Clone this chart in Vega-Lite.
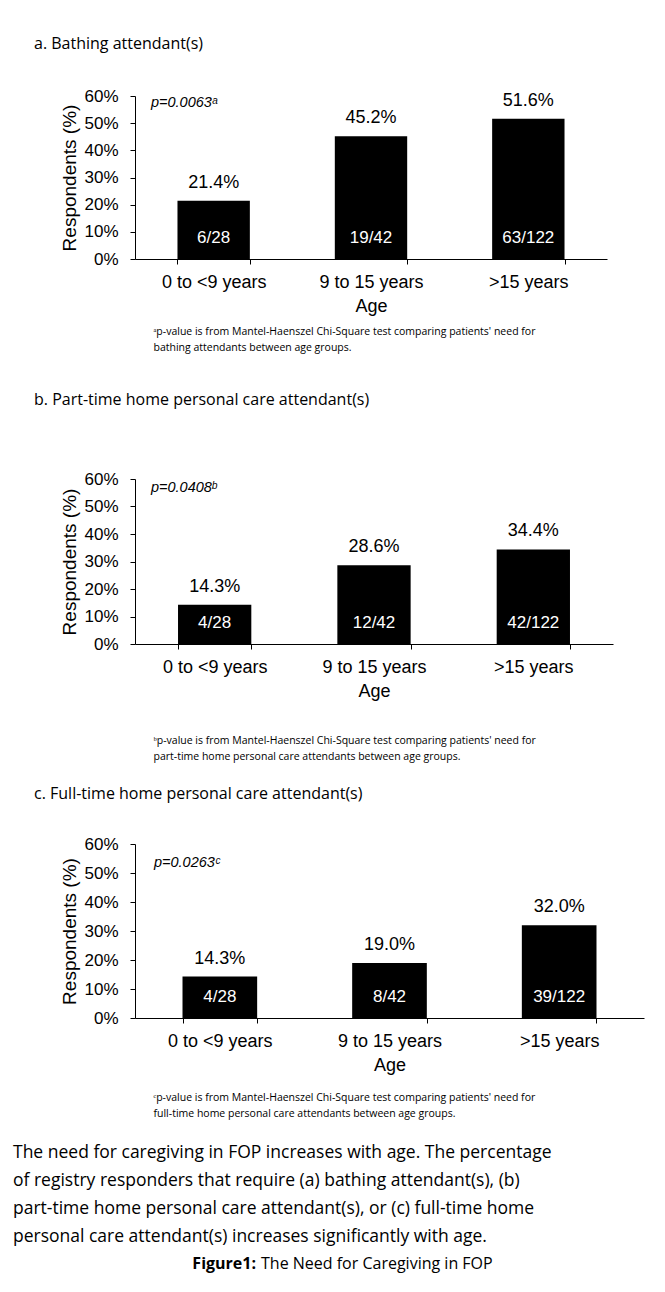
{
  "$schema": "https://vega.github.io/schema/vega-lite/v6.json",
  "background": "white",
  "padding": {"left": 13, "top": 36, "right": 5, "bottom": 5},
  "spacing": 24,
  "config": {
    "view": {"stroke": null},
    "font": "Liberation Sans",
    "text": {"font": "Liberation Sans", "color": "#000"},
    "axis": {"domainColor": "#000", "tickColor": "#000", "labelColor": "#000", "titleColor": "#000", "labelFont": "Liberation Sans", "titleFont": "Liberation Sans", "titleFontWeight": "normal", "grid": false, "tickSize": 5},
    "axisX": {"labelFontSize": 18, "titleFontSize": 18, "labelPadding": 9, "titlePadding": 6},
    "axisY": {"labelFontSize": 17, "titleFontSize": 19, "labelPadding": 12, "titlePadding": 4, "labelOverlap": false},
    "title": {"font": "Open Sans", "fontWeight": "normal", "color": "#000"}
  },
  "datasets": {
    "bars": [
      {"panel": "a", "age": "0 to <9 years", "pct": 0.214, "ratio": "6/28"},
      {"panel": "a", "age": "9 to 15 years", "pct": 0.452, "ratio": "19/42"},
      {"panel": "a", "age": ">15 years", "pct": 0.516, "ratio": "63/122"},
      {"panel": "b", "age": "0 to <9 years", "pct": 0.143, "ratio": "4/28"},
      {"panel": "b", "age": "9 to 15 years", "pct": 0.286, "ratio": "12/42"},
      {"panel": "b", "age": ">15 years", "pct": 0.344, "ratio": "42/122"},
      {"panel": "c", "age": "0 to <9 years", "pct": 0.143, "ratio": "4/28"},
      {"panel": "c", "age": "9 to 15 years", "pct": 0.190, "ratio": "8/42"},
      {"panel": "c", "age": ">15 years", "pct": 0.320, "ratio": "39/122"}
    ],
    "pvals": [
      {"panel": "a", "p": "p=0.0063ᵃ"},
      {"panel": "b", "p": "p=0.0408ᵇ"},
      {"panel": "c", "p": "p=0.0263ᶜ"}
    ],
    "caption": [
      {"lead": "Figure1:", "rest": "The Need for Caregiving in FOP"}
    ]
  },
  "vconcat": [
    {
      "width": 472, "height": 163,
      "title": {"text": "a. Bathing attendant(s)", "anchor": "start", "frame": "group", "dx": -101, "fontSize": 16, "offset": 35},
      "layer": [
        {
          "data": {"name": "bars"},
          "transform": [{"filter": "datum.panel === 'a'"}],
          "encoding": {
            "x": {"field": "age", "type": "nominal", "sort": null, "title": "Age", "scale": {"paddingInner": 0.54, "paddingOuter": 0.27}, "axis": {"labelAngle": 0, "tickBand": "extent"}},
            "y": {"field": "pct", "type": "quantitative", "title": "Respondents (%)", "scale": {"domain": [0, 0.6]}, "axis": {"values": [0, 0.1, 0.2, 0.3, 0.4, 0.5, 0.6], "format": ".0%", "labelOverlap": false}}
          },
          "layer": [
            {"mark": {"type": "bar", "color": "#000"}},
            {"mark": {"type": "text", "baseline": "bottom", "dy": -9, "fontSize": 18}, "encoding": {"text": {"field": "pct", "type": "quantitative", "format": ".1%"}}},
            {"mark": {"type": "text", "baseline": "bottom", "dy": -12, "fontSize": 17, "color": "#ffffff"}, "encoding": {"y": {"datum": 0, "type": "quantitative", "title": "Respondents (%)", "axis": {"values": [0, 0.1, 0.2, 0.3, 0.4, 0.5, 0.6], "format": ".0%", "labelOverlap": false}}, "text": {"field": "ratio"}}}
          ]
        },
        {
          "data": {"name": "pvals"},
          "transform": [{"filter": "datum.panel === 'a'"}],
          "mark": {"type": "text", "align": "left", "dx": 16, "fontStyle": "italic", "fontSize": 14.5},
          "encoding": {
            "x": {"field": "p", "type": "nominal", "scale": {"type": "point", "align": 0}, "axis": {"orient": "bottom", "offset": 67, "domain": false, "ticks": false, "labels": false, "title": ["ᵃp-value is from Mantel-Haenszel Chi-Square test comparing patients' need for", "bathing attendants between age groups."], "titleFont": "Open Sans", "titleFontSize": 10.5, "titleLineHeight": 16, "titleAnchor": "start", "titleAlign": "left", "titleX": 18, "titlePadding": 0, "titleBaseline": "top"}},
            "y": {"datum": 0.575, "type": "quantitative", "title": "Respondents (%)", "axis": {"values": [0, 0.1, 0.2, 0.3, 0.4, 0.5, 0.6], "format": ".0%", "labelOverlap": false}},
            "text": {"field": "p"}
          }
        }
      ],
      "resolve": {"scale": {"x": "independent"}, "axis": {"x": "independent"}}
    },
    {
      "width": 478, "height": 165,
      "title": {"text": ["", "b. Part-time home personal care attendant(s)"], "anchor": "start", "frame": "group", "dx": -101, "fontSize": 16, "lineHeight": 15, "offset": 62},
      "layer": [
        {
          "data": {"name": "bars"},
          "transform": [{"filter": "datum.panel === 'b'"}],
          "encoding": {
            "x": {"field": "age", "type": "nominal", "sort": null, "title": "Age", "scale": {"paddingInner": 0.54, "paddingOuter": 0.27}, "axis": {"labelAngle": 0, "tickBand": "extent"}},
            "y": {"field": "pct", "type": "quantitative", "title": "Respondents (%)", "scale": {"domain": [0, 0.6]}, "axis": {"values": [0, 0.1, 0.2, 0.3, 0.4, 0.5, 0.6], "format": ".0%", "labelOverlap": false}}
          },
          "layer": [
            {"mark": {"type": "bar", "color": "#000"}},
            {"mark": {"type": "text", "baseline": "bottom", "dy": -9, "fontSize": 18}, "encoding": {"text": {"field": "pct", "type": "quantitative", "format": ".1%"}}},
            {"mark": {"type": "text", "baseline": "bottom", "dy": -12, "fontSize": 17, "color": "#ffffff"}, "encoding": {"y": {"datum": 0, "type": "quantitative", "title": "Respondents (%)", "axis": {"values": [0, 0.1, 0.2, 0.3, 0.4, 0.5, 0.6], "format": ".0%", "labelOverlap": false}}, "text": {"field": "ratio"}}}
          ]
        },
        {
          "data": {"name": "pvals"},
          "transform": [{"filter": "datum.panel === 'b'"}],
          "mark": {"type": "text", "align": "left", "dx": 16, "fontStyle": "italic", "fontSize": 14.5},
          "encoding": {
            "x": {"field": "p", "type": "nominal", "scale": {"type": "point", "align": 0}, "axis": {"orient": "bottom", "offset": 91, "domain": false, "ticks": false, "labels": false, "title": ["ᵇp-value is from Mantel-Haenszel Chi-Square test comparing patients' need for", "part-time home personal care attendants between age groups."], "titleFont": "Open Sans", "titleFontSize": 10.5, "titleLineHeight": 16, "titleAnchor": "start", "titleAlign": "left", "titleX": 18, "titlePadding": 0, "titleBaseline": "top"}},
            "y": {"datum": 0.567, "type": "quantitative", "title": "Respondents (%)", "axis": {"values": [0, 0.1, 0.2, 0.3, 0.4, 0.5, 0.6], "format": ".0%", "labelOverlap": false}},
            "text": {"field": "p"}
          }
        }
      ],
      "resolve": {"scale": {"x": "independent"}, "axis": {"x": "independent"}}
    },
    {
      "width": 509, "height": 174,
      "title": {"text": "c. Full-time home personal care attendant(s)", "anchor": "start", "frame": "group", "dx": -101, "fontSize": 16, "offset": 33},
      "layer": [
        {
          "data": {"name": "bars"},
          "transform": [{"filter": "datum.panel === 'c'"}],
          "encoding": {
            "x": {"field": "age", "type": "nominal", "sort": null, "title": "Age", "scale": {"paddingInner": 0.56, "paddingOuter": 0.28}, "axis": {"labelAngle": 0, "tickBand": "extent"}},
            "y": {"field": "pct", "type": "quantitative", "title": "Respondents (%)", "scale": {"domain": [0, 0.6]}, "axis": {"values": [0, 0.1, 0.2, 0.3, 0.4, 0.5, 0.6], "format": ".0%", "labelOverlap": false}}
          },
          "layer": [
            {"mark": {"type": "bar", "color": "#000"}},
            {"mark": {"type": "text", "baseline": "bottom", "dy": -9, "fontSize": 18}, "encoding": {"text": {"field": "pct", "type": "quantitative", "format": ".1%"}}},
            {"mark": {"type": "text", "baseline": "bottom", "dy": -12, "fontSize": 17, "color": "#ffffff"}, "encoding": {"y": {"datum": 0, "type": "quantitative", "title": "Respondents (%)", "axis": {"values": [0, 0.1, 0.2, 0.3, 0.4, 0.5, 0.6], "format": ".0%", "labelOverlap": false}}, "text": {"field": "ratio"}}}
          ]
        },
        {
          "data": {"name": "pvals"},
          "transform": [{"filter": "datum.panel === 'c'"}],
          "mark": {"type": "text", "align": "left", "dx": 19, "fontStyle": "italic", "fontSize": 14.5},
          "encoding": {
            "x": {"field": "p", "type": "nominal", "scale": {"type": "point", "align": 0}, "axis": {"orient": "bottom", "offset": 74, "domain": false, "ticks": false, "labels": false, "title": ["ᶜp-value is from Mantel-Haenszel Chi-Square test comparing patients' need for", "full-time home personal care attendants between age groups."], "titleFont": "Open Sans", "titleFontSize": 10.5, "titleLineHeight": 16, "titleAnchor": "start", "titleAlign": "left", "titleX": 18, "titlePadding": 0, "titleBaseline": "top"}},
            "y": {"datum": 0.535, "type": "quantitative", "title": "Respondents (%)", "axis": {"values": [0, 0.1, 0.2, 0.3, 0.4, 0.5, 0.6], "format": ".0%", "labelOverlap": false}},
            "text": {"field": "p"}
          }
        }
      ],
      "resolve": {"scale": {"x": "independent"}, "axis": {"x": "independent"}}
    },
    {
      "width": 396, "height": 30,
      "title": {"text": ["The need for caregiving in FOP increases with age. The percentage", "of registry responders that require (a) bathing attendant(s), (b)", "part-time home personal care attendant(s), or (c) full-time home", "personal care attendant(s) increases significantly with age."], "anchor": "start", "frame": "group", "dx": -122, "fontSize": 17.5, "lineHeight": 28, "offset": 4},
      "data": {"name": "caption"},
      "layer": [
        {"mark": {"type": "text", "font": "Open Sans", "fontWeight": "bold", "fontSize": 16, "align": "right", "dx": -77}, "encoding": {"text": {"field": "lead"}}},
        {"mark": {"type": "text", "font": "Open Sans", "fontSize": 16, "align": "left", "dx": -72}, "encoding": {"text": {"field": "rest"}}}
      ]
    }
  ]
}
